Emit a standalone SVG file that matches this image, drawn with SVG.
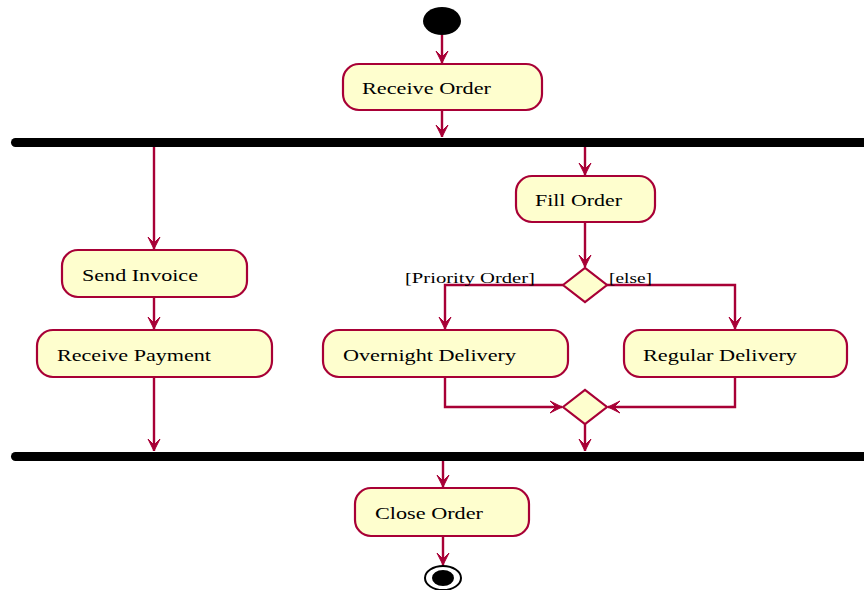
<svg xmlns="http://www.w3.org/2000/svg" width="864" height="590" viewBox="0 0 864 590">
  <style>
    .act rect { fill: #FEFECE; stroke: #A80036; stroke-width: 2.2; }
    .act text { font-family: "Liberation Serif", "Times New Roman", serif; font-size: 17px; fill: #000; }
    .bar { fill: #000; }
    .dec polygon { fill: #FEFECE; stroke: #A80036; stroke-width: 2.2; }
    .edge { fill: none; stroke: #A80036; stroke-width: 2.4; }
    .guard { font-family: "Liberation Serif", "Times New Roman", serif; font-size: 15px; fill: #000; }
  </style>
  <defs>
    <marker id="arrow" viewBox="-13 -7 14 14" refX="0" refY="0" markerWidth="14" markerHeight="14" markerUnits="userSpaceOnUse" orient="auto">
      <path d="M0,0 L-12,-6 L-6,0 L-12,6 Z" fill="#A80036" stroke="#A80036" stroke-width="1" stroke-linejoin="miter"/>
    </marker>
  </defs>

  <g id="start"><ellipse cx="442" cy="21" rx="19" ry="14" fill="#000"/></g>

  <g id="receive-order" class="act">
    <rect x="343" y="64" width="199" height="46" rx="16"/>
    <text x="362" y="94" textLength="129" lengthAdjust="spacingAndGlyphs">Receive Order</text>
  </g>

  <g id="fork"><rect class="bar" x="11" y="138" width="860" height="9" rx="4.5"/></g>

  <g id="send-invoice" class="act">
    <rect x="62" y="250" width="185" height="47" rx="16"/>
    <text x="82" y="281" textLength="116" lengthAdjust="spacingAndGlyphs">Send Invoice</text>
  </g>

  <g id="receive-payment" class="act">
    <rect x="37" y="330" width="235" height="47" rx="16"/>
    <text x="57" y="361" textLength="154" lengthAdjust="spacingAndGlyphs">Receive Payment</text>
  </g>

  <g id="fill-order" class="act">
    <rect x="516" y="176" width="139" height="46" rx="16"/>
    <text x="535" y="206" textLength="87" lengthAdjust="spacingAndGlyphs">Fill Order</text>
  </g>

  <g id="branch" class="dec"><polygon points="563,285 585,268 607,285 585,302"/></g>

  <g id="overnight-delivery" class="act">
    <rect x="323" y="330" width="245" height="47" rx="16"/>
    <text x="343" y="361" textLength="173" lengthAdjust="spacingAndGlyphs">Overnight Delivery</text>
  </g>

  <g id="regular-delivery" class="act">
    <rect x="624" y="330" width="223" height="47" rx="16"/>
    <text x="643" y="361" textLength="154" lengthAdjust="spacingAndGlyphs">Regular Delivery</text>
  </g>

  <g id="merge" class="dec"><polygon points="563,407 585,390 607,407 585,424"/></g>

  <g id="join"><rect class="bar" x="11" y="452" width="860" height="9" rx="4.5"/></g>

  <g id="close-order" class="act">
    <rect x="355" y="488" width="174" height="48" rx="16"/>
    <text x="375" y="519" textLength="108" lengthAdjust="spacingAndGlyphs">Close Order</text>
  </g>

  <g id="end">
    <ellipse cx="443" cy="578" rx="18" ry="12" fill="#fff" stroke="#000" stroke-width="2"/>
    <ellipse cx="443" cy="578" rx="11" ry="8" fill="#000"/>
  </g>

  <g id="connectors">
    <path class="edge" d="M442,35 V63" marker-end="url(#arrow)"/>
    <path class="edge" d="M442,110 V137" marker-end="url(#arrow)"/>
    <path class="edge" d="M154,147 V249" marker-end="url(#arrow)"/>
    <path class="edge" d="M154,297 V329" marker-end="url(#arrow)"/>
    <path class="edge" d="M154,377 V451" marker-end="url(#arrow)"/>
    <path class="edge" d="M585,147 V175" marker-end="url(#arrow)"/>
    <path class="edge" d="M585,222 V267" marker-end="url(#arrow)"/>
    <path class="edge" d="M563,285 H445 V329" marker-end="url(#arrow)"/>
    <path class="edge" d="M607,285 H735 V329" marker-end="url(#arrow)"/>
    <path class="edge" d="M445,377 V407 H562" marker-end="url(#arrow)"/>
    <path class="edge" d="M735,377 V407 H608" marker-end="url(#arrow)"/>
    <path class="edge" d="M585,424 V451" marker-end="url(#arrow)"/>
    <path class="edge" d="M443,461 V487" marker-end="url(#arrow)"/>
    <path class="edge" d="M443,536 V565" marker-end="url(#arrow)"/>
    <text class="guard" x="405" y="283" textLength="130" lengthAdjust="spacingAndGlyphs">[Priority Order]</text>
    <text class="guard" x="609" y="283" textLength="43" lengthAdjust="spacingAndGlyphs">[else]</text>
  </g>
</svg>
